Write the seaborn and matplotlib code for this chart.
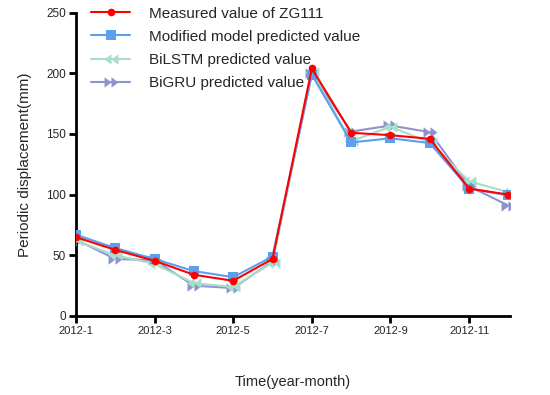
import matplotlib
matplotlib.use('Agg')
import numpy as np
import pandas as pd
import matplotlib.pyplot as plt
import seaborn as sns
from matplotlib.path import Path

months = list(range(1, 13))
tick_pos = [1, 3, 5, 7, 9, 11]
tick_labels = ['2012-1', '2012-3', '2012-5', '2012-7', '2012-9', '2012-11']

measured = [65, 54.5, 45.5, 34, 29, 47, 204, 151, 149, 146, 105, 100]
modified = [67, 56, 47, 37, 32, 49, 199, 143, 146.5, 142.5, 105, 99.5]
bilstm = [62, 50, 43, 27, 24, 44, 201, 144, 156, 143, 111, 102]
bigru = [63, 47, 46, 25, 23, 45, 200, 152, 157, 151.5, 107, 91]

sns.set_style('ticks')
plt.rcParams['font.family'] = ['Liberation Sans', 'DejaVu Sans']

# double triangle markers like the Prism output
code = [Path.MOVETO, Path.LINETO, Path.LINETO, Path.CLOSEPOLY]
left2 = Path([(-1, 0), (0, 0.75), (0, -0.75), (-1, 0),
              (0, 0), (1, 0.75), (1, -0.75), (0, 0)], code * 2)
right2 = Path([(1, 0), (0, 0.75), (0, -0.75), (1, 0),
               (0, 0), (-1, 0.75), (-1, -0.75), (0, 0)], code * 2)

df = pd.DataFrame({'month': months, 'measured': measured, 'modified': modified,
                   'bilstm': bilstm, 'bigru': bigru})

fig = plt.figure(figsize=(5.5, 3.95), dpi=100)
ax = fig.add_axes([0.138, 0.2, 0.79, 0.768])

sns.lineplot(data=df, x='month', y='measured', ax=ax, color='#FF0000', lw=1.5,
             marker='o', markersize=5.5, markeredgewidth=0, label='Measured value of ZG111', zorder=5)
sns.lineplot(data=df, x='month', y='modified', ax=ax, color='#5AA0EC', lw=1.5,
             marker='s', markersize=7, markeredgewidth=0, label='Modified model predicted value', zorder=4)
sns.lineplot(data=df, x='month', y='bilstm', ax=ax, color='#A6DEC8', lw=1.5,
             marker=left2, markersize=10, markeredgewidth=0, label='BiLSTM predicted value', zorder=3)
sns.lineplot(data=df, x='month', y='bigru', ax=ax, color='#8E92CF', lw=1.5,
             marker=right2, markersize=10, markeredgewidth=0, label='BiGRU predicted value', zorder=2)

ax.set_xlim(1, 12.05)
ax.set_ylim(0, 250)
ax.set_yticks([0, 50, 100, 150, 200, 250])
ax.set_xticks(tick_pos)
ax.set_xticklabels(tick_labels)
ax.tick_params(axis='both', width=2, length=5, labelsize=8.5, pad=2, color='black')
ax.tick_params(axis='x', labelsize=8)
for s in ['left', 'bottom']:
    ax.spines[s].set_linewidth(2)
    ax.spines[s].set_color('black')
sns.despine(ax=ax)
ax.set_xlabel('Time(year-month)', fontsize=10.5, labelpad=28)
ax.set_ylabel('Periodic displacement(mm)', fontsize=11, labelpad=10)

ax.legend(loc='upper left', bbox_to_anchor=(0.02, 1.04), frameon=False, fontsize=11,
          handlelength=2.6, labelspacing=0.6, handletextpad=1.2, borderaxespad=0)

fig.savefig('out.png', dpi=100)
